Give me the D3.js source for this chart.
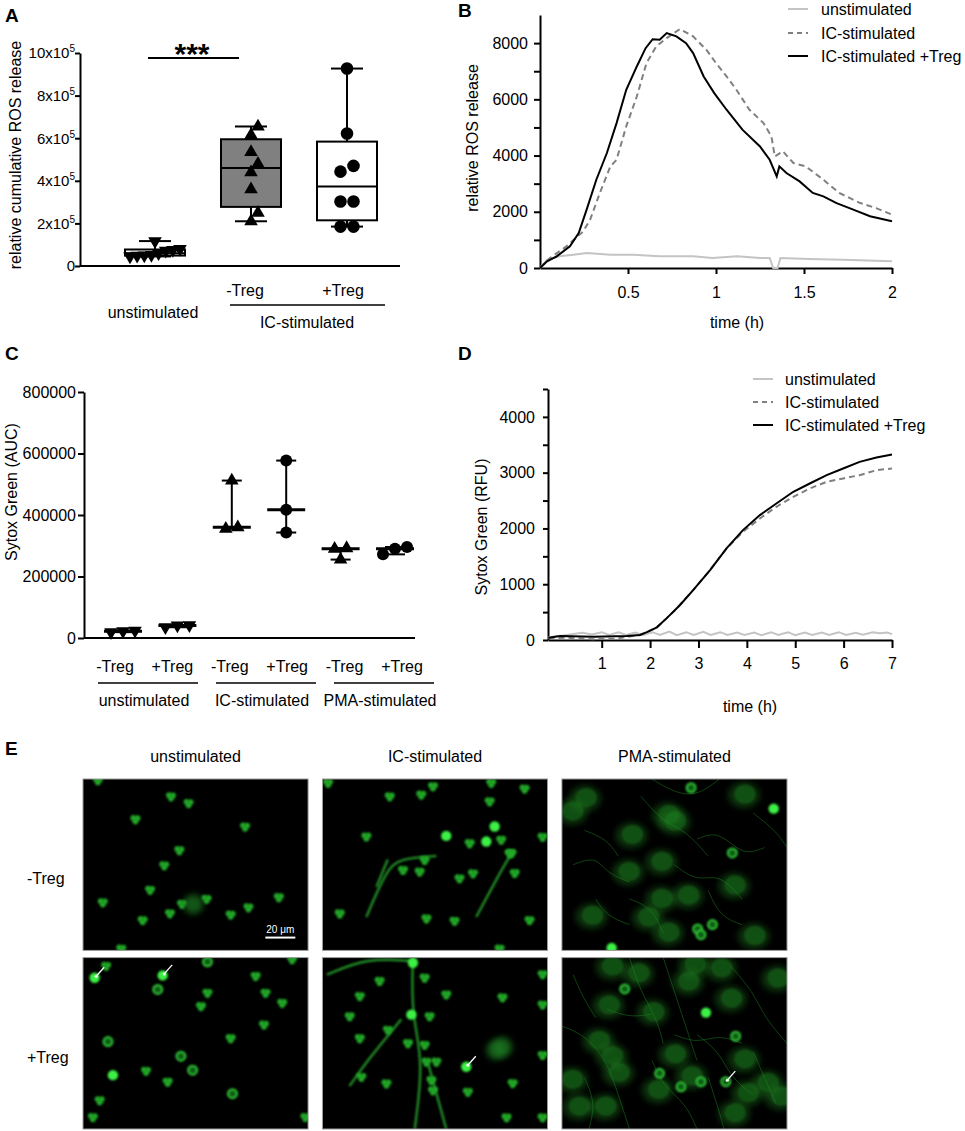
<!DOCTYPE html>
<html><head><meta charset="utf-8">
<script src="https://cdn.jsdelivr.net/npm/d3@7"></script>
<style>
body{margin:0;background:#fff}
svg text{font-family:"Liberation Sans",Arial,Helvetica,sans-serif;fill:#000}
</style></head>
<body><svg id="fig" width="965" height="1131"></svg>
<script>
// ================= DATA =================
// Panel A (values in units of 10^5)
const aGroups = ["unstimulated", "-Treg", "+Treg"];
const aUnstim = [0.8, 0.72, 0.5, 0.45, 0.48, 0.52, 0.6, 0.75, 1.17];
const aICminus = [2.1, 2.5, 3.6, 4.4, 4.8, 5.35, 6.15, 6.55];
const aICplus = [9.27, 6.22, 4.43, 4.7, 3.03, 3.03, 1.85, 1.85];
const aTicks = [0, 2, 4, 6, 8, 10];

// Panel B: [time h, value]
const bUnstim = [[0,0],[0.04,296],[0.11,415],[0.19,475],[0.265,535],[0.4,475],[0.53,475],[0.68,415],[0.87,415],[0.98,355],[1.12,415],[1.25,355],[1.305,355],[1.325,0],[1.35,0],[1.366,355],[1.53,320],[1.72,296],[2,237]];
const bIC = [[0,0],[0.057,355],[0.15,770],[0.245,1300],[0.285,1720],[0.34,2670],[0.4,3615],[0.435,3850],[0.49,5040],[0.55,6100],[0.605,7290],[0.66,7880],[0.72,8180],[0.795,8500],[0.87,8240],[0.946,7760],[1.0,7290],[1.06,6815],[1.116,6340],[1.19,5630],[1.27,5155],[1.315,4680],[1.334,3970],[1.38,4150],[1.44,3735],[1.51,3615],[1.61,3140],[1.70,2670],[1.82,2310],[1.91,2130],[2,1900]];
const bICTreg = [[0,0],[0.04,237],[0.095,415],[0.17,770],[0.22,1245],[0.265,2075],[0.32,3140],[0.38,4090],[0.435,5155],[0.49,6340],[0.55,7170],[0.6,7820],[0.64,8140],[0.68,8120],[0.72,8355],[0.775,8240],[0.83,8000],[0.87,7645],[0.93,6815],[0.99,6220],[1.06,5630],[1.15,4920],[1.25,4325],[1.305,3850],[1.345,3260],[1.36,3615],[1.4,3380],[1.475,3080],[1.55,2670],[1.61,2550],[1.685,2310],[1.78,2075],[1.875,1840],[2,1660]];
const bXTicks = [0.5, 1, 1.5, 2];
const bYTicks = [0,1000,2000,3000,4000,5000,6000,7000,8000];
const legendLabels = ["unstimulated", "IC-stimulated", "IC-stimulated +Treg"];

// Panel C
const cGroups = ["unstim-", "unstim+", "IC-", "IC+", "PMA-", "PMA+"];
const cSubLabels = ["-Treg", "+Treg", "-Treg", "+Treg", "-Treg", "+Treg"];
const cStimLabels = ["unstimulated", "IC-stimulated", "PMA-stimulated"];
const cUnstimMinus = [24000, 19000, 22000];
const cUnstimPlus = [42000, 35000, 41000];
const cICMinus = [355000, 360000, 512000];
const cICPlus = [577000, 417000, 343000];
const cPMAMinus = [292000, 255000, 290000];
const cPMAPlus = [296000, 272000, 290000];
const cTicks = [0, 200000, 400000, 600000, 800000];

// Panel D: [time h, RFU]
const dUnstim = [[-0.1,50],[0.2,80],[0.45,110],[0.6,130],[0.8,100],[1.0,140],[1.15,90],[1.35,140],[1.5,90],[1.7,135],[1.85,85],[2.05,140],[2.2,90],[2.4,150],[2.55,85],[2.75,140],[2.9,90],[3.1,145],[3.25,90],[3.45,140],[3.6,90],[3.8,135],[3.95,90],[4.15,135],[4.3,85],[4.5,140],[4.65,90],[4.85,140],[5.0,85],[5.2,135],[5.35,90],[5.55,135],[5.7,90],[5.9,140],[6.05,90],[6.25,130],[6.4,95],[6.6,140],[6.75,120],[6.9,135],[7.0,105]];
const dIC = [[-0.1,30],[0.3,40],[0.83,15],[1.3,25],[1.79,90],[2.14,227],[2.5,520],[2.89,895],[3.24,1254],[3.58,1642],[3.92,1940],[4.27,2179],[4.61,2388],[4.96,2567],[5.30,2716],[5.65,2836],[5.99,2896],[6.33,2955],[6.68,3045],[7.0,3075]];
const dICTreg = [[-0.1,42],[0.14,72],[0.83,60],[1.52,72],[1.79,90],[1.96,150],[2.14,227],[2.34,388],[2.62,627],[2.89,895],[3.24,1254],[3.58,1642],[3.92,1970],[4.27,2239],[4.61,2448],[4.96,2657],[5.30,2806],[5.65,2955],[5.99,3075],[6.33,3194],[6.68,3272],[7.0,3325]];
const dXTicks = [1,2,3,4,5,6,7];
const dYTicks = [0,500,1000,1500,2000,2500,3000,3500,4000,4500];

// Panel E: cells [fx, fy, kind] kind 0=nucleus,1=bright,2=dim large,3=ring
const eCols = ["unstimulated", "IC-stimulated", "PMA-stimulated"];
const eRows = ["-Treg", "+Treg"];
const cellsUnMinus = [[0.066,0.008,0],[0.391,0.102,0],[0.469,0.141,0],[0.233,0.235,0],[0.72,0.278,0],[0.428,0.416,0],[0.361,0.504,0],[0.298,0.647,0],[0.088,0.72,0],[0.549,0.7,0],[0.44,0.729,0],[0.386,0.784,0],[0.265,0.824,0],[0.656,0.792,0],[0.735,0.749,0],[0.87,0.69,0],[0.17,0.99,0],[0.49,0.73,2]];
const cellsUnPlus = [[0.052,0.118,1],[0.103,0.049,0],[0.354,0.104,1],[0.332,0.186,3],[0.553,0.025,3],[0.767,0.108,0],[0.811,0.206,0],[0.885,0.265,0],[0.524,0.284,0],[0.553,0.206,0],[0.656,0.471,0],[0.804,0.392,0],[0.111,0.49,3],[0.435,0.575,3],[0.487,0.657,3],[0.28,0.661,0],[0.376,0.725,0],[0.133,0.686,1],[0.664,0.794,3],[0.074,0.833,0],[0.044,0.931,0],[0.929,0.01,0],[0.988,0.931,0]];
const cellsICMinus = [[0.025,0.023,0],[0.299,0.102,0],[0.439,0.092,0],[0.491,0.043,0],[0.75,0.023,0],[0.743,0.131,0],[0.195,0.336,0],[0.55,0.332,1],[0.765,0.277,1],[0.728,0.365,1],[0.794,0.355,0],[0.654,0.375,0],[0.831,0.434,0],[0.454,0.473,0],[0.358,0.531,0],[0.432,0.541,0],[0.609,0.58,0],[0.669,0.551,0],[0.077,0.785,0],[0.462,0.814,0],[0.587,0.828,0],[0.898,0.057,0],[0.978,0.338,0],[0.84,0.432,0],[0.854,0.549,0],[0.92,0.824,0],[0.787,0.99,0]];
const cellsICPlus = [[0.402,0.03,1],[0.254,0.137,0],[0.454,0.118,0],[0.166,0.225,0],[0.121,0.343,0],[0.395,0.333,1],[0.55,0.216,0],[0.476,0.343,0],[0.291,0.422,0],[0.166,0.471,0],[0.38,0.5,0],[0.454,0.51,0],[0.462,0.608,0],[0.506,0.608,0],[0.639,0.637,1],[0.772,0.539,2],[0.173,0.696,0],[0.284,0.735,0],[0.484,0.716,0],[0.491,0.775,0],[0.646,0.784,0],[0.978,0.098,0],[0.8,0.233,0],[0.978,0.275,0],[0.8,0.522,2],[0.978,0.569,0],[0.845,0.733,0],[0.818,0.933,0],[0.978,0.933,0]];
const cellsPMAMinus = [[0.941,0.173,1],[0.574,0.051,3],[0.757,0.431,3],[0.669,0.849,3],[0.603,0.875,3],[0.618,0.908,3],[0.221,0.986,1]];
const cellsPMAPlus = [[0.64,0.321,1],[0.772,0.459,3],[0.434,0.675,3],[0.529,0.754,3],[0.618,0.724,3],[0.728,0.724,3],[0.279,0.183,3]];
const blobsPMAMinus = [[0.103,0.114],[0.044,0.192],[0.471,0.212],[0.309,0.329],[0.5,0.251],[0.809,0.094],[0.441,0.486],[0.294,0.545],[0.441,0.702],[0.559,0.682],[0.382,0.81],[0.471,0.898],[0.853,0.918],[0.765,0.624],[0.132,0.8]];
const blobsPMAPlus = [[0.221,0.055],[0.338,0.094],[0.588,0.045],[0.706,0.065],[0.559,0.144],[0.75,0.242],[0.404,0.321],[0.206,0.281],[0.162,0.488],[0.221,0.577],[0.25,0.675],[0.5,0.567],[0.574,0.695],[0.809,0.596],[0.824,0.793],[0.912,0.734],[0.971,0.813],[0.044,0.715],[0.074,0.872],[0.191,0.872],[0.426,0.774],[0.765,0.911],[0.956,0.124]];
const strandsICMinus = [[[0.195,0.805],[0.284,0.531],[0.343,0.463],[0.506,0.449]],[[0.24,0.63],[0.29,0.47]],[[0.683,0.805],[0.787,0.551],[0.831,0.453]]];
const strandsICPlus = [[[0.402,0.0],[0.395,0.333],[0.45,0.6],[0.41,1.0]],[[0.47,0.62],[0.55,1.0]],[[0.02,0.1],[0.2,0.0],[0.4,0.02]],[[0.35,0.36],[0.2,0.6],[0.12,0.75]]];
const strandsPMAMinus = [[[0.05,0.5],[0.15,0.45],[0.2,0.55],[0.3,0.6]],[[0.35,0.1],[0.45,0.25],[0.55,0.3],[0.65,0.45]],[[0.6,0.35],[0.7,0.3],[0.8,0.45],[0.9,0.4]],[[0.15,0.7],[0.2,0.8],[0.3,0.85]],[[0.5,0.5],[0.6,0.6],[0.7,0.55],[0.8,0.7]],[[0.4,0.0],[0.5,0.08],[0.6,0.1],[0.7,0.0]],[[0.1,0.3],[0.2,0.35],[0.25,0.45]],[[0.65,0.65],[0.7,0.8],[0.8,0.85]],[[0.85,0.2],[0.95,0.3],[1.0,0.4]],[[0.3,0.7],[0.4,0.75],[0.45,0.9]]];
const strandsPMAPlus = [[[0.3,0.0],[0.35,0.2],[0.42,0.35],[0.45,0.5]],[[0.45,0.0],[0.5,0.2],[0.55,0.4],[0.6,0.6]],[[0.0,0.4],[0.1,0.45],[0.2,0.6],[0.25,0.8],[0.3,1.0]],[[0.6,0.45],[0.7,0.55],[0.75,0.7],[0.85,0.8]],[[0.75,0.05],[0.85,0.2],[0.9,0.35],[1.0,0.5]],[[0.4,0.6],[0.45,0.75],[0.55,0.85],[0.6,1.0]],[[0.05,0.1],[0.1,0.25],[0.15,0.35]],[[0.2,0.3],[0.3,0.35],[0.4,0.33]],[[0.65,0.7],[0.7,0.9],[0.72,1.0]],[[0.5,0.45],[0.6,0.5],[0.7,0.45],[0.8,0.5]],[[0.85,0.55],[0.9,0.7],[0.95,0.85]],[[0.1,0.7],[0.15,0.85],[0.12,1.0]]];
const arrowsUnPlus = [[0.052,0.118],[0.354,0.104]];
const arrowsICPlus = [[0.639,0.637]];
const arrowsPMAPlus = [[0.728,0.724]];

// ================= HELPERS =================
const svg = d3.select("#fig");
const defs = svg.append("defs");
[["bl1",0.8],["bl2",1.5],["bl3",3],["bl6",6]].forEach(([id,s])=>{
  defs.append("filter").attr("id",id).attr("x","-100%").attr("y","-100%").attr("width","300%").attr("height","300%")
    .append("feGaussianBlur").attr("stdDeviation",s);
});

function quant(arr,p){const s=arr.slice().sort((a,b)=>a-b),n=s.length;const h=(n+1)*p;if(h<=1)return s[0];if(h>=n)return s[n-1];const lo=Math.floor(h);return s[lo-1]+(h-lo)*(s[lo]-s[lo-1]);}

function layoutPoints(vals,y,opt){
  const {thresh=8,space=12,maxW=50,minD=9}=opt||{};
  const order=vals.map((v,i)=>i).sort((a,b)=>vals[a]-vals[b]);
  const rows=[];
  order.forEach(i=>{const yy=y(vals[i]);const r=rows[rows.length-1];if(r&&Math.abs(r.y0-yy)<thresh)r.items.push(i);else rows.push({y0:yy,items:[i]});});
  const placed=[],off=[];
  rows.forEach(r=>{const k=r.items.length;const sp=k>1?Math.min(space,maxW/(k-1)):0;
    const base=r.items.map((i,j)=>(j-(k-1)/2)*sp);
    for(let t=0;t<30;t++){const sh=t===0?0:(t%2?1:-1)*Math.ceil(t/2)*7;
      const ok=r.items.every((i,j)=>placed.every(p=>Math.hypot(p.x-(base[j]+sh),p.y-y(vals[i]))>=minD));
      if(ok){r.items.forEach((i,j)=>{off[i]=base[j]+sh;placed.push({x:off[i],y:y(vals[i])});});break;}}
  });
  return off;
}
const triPath=d3.symbol(d3.symbolTriangle,80)();
function drawMarker(g,x,y,shape,r){
  if(shape==="circle") g.append("circle").attr("cx",x).attr("cy",y).attr("r",r||6.3).attr("fill","#000");
  else g.append("path").attr("d",triPath).attr("fill","#000")
    .attr("transform",`translate(${x},${y})`+(shape==="down"?" rotate(180)":""));
}
function styleAxis(g,w){g.selectAll("path,line").attr("stroke","#000").attr("stroke-width",w||2);g.selectAll("text").attr("font-size",16).attr("font-family","Liberation Sans, Arial, sans-serif");}
function letter(t,x,y){svg.append("text").attr("x",x).attr("y",y).attr("font-size",19).attr("font-weight","bold").text(t);}
function ytitle(t,x,y){svg.append("text").attr("transform",`translate(${x},${y}) rotate(-90)`).attr("text-anchor","middle").attr("font-size",16).text(t);}

// ================= PANEL A =================
letter("A",5,22);
const aY=d3.scaleLinear().domain([0,10]).range([266,53]);
const aX=d3.scalePoint().domain(aGroups).range([155,347]);
const aYAxis=svg.append("g").attr("transform","translate(80,0)")
  .call(d3.axisLeft(aY).tickValues(aTicks).tickSize(5).tickPadding(3).tickSizeOuter(0).tickFormat(""));
styleAxis(aYAxis);
aYAxis.selectAll(".tick").each(function(d){
  const t=d3.select(this).append("text").attr("x",-5).attr("dy","0.32em").attr("text-anchor","end").attr("font-size",15).attr("fill","#000");
  if(d===0){t.text("0");}else{t.append("tspan").text(d+"x10");t.append("tspan").attr("font-size",10).attr("dy","-0.6em").text("5");}
});
svg.append("line").attr("x1",80).attr("x2",400).attr("y1",aY(0)).attr("y2",aY(0)).attr("stroke","#000").attr("stroke-width",2);
ytitle("relative cumulative ROS release",21,155);

const aSets=[{g:"unstimulated",v:aUnstim,shape:"down",fill:"#fff"},{g:"-Treg",v:aICminus,shape:"up",fill:"#808080"},{g:"+Treg",v:aICplus,shape:"circle",fill:"#fff"}];
aSets.forEach(s=>{
  const cx=aX(s.g),g=svg.append("g");
  const q1=quant(s.v,0.25),md=quant(s.v,0.5),q3=quant(s.v,0.75),mn=d3.min(s.v),mx=d3.max(s.v);
  const bw=30,cw=16;
  g.append("line").attr("x1",cx).attr("x2",cx).attr("y1",aY(mx)).attr("y2",aY(q3)).attr("stroke","#000").attr("stroke-width",2);
  g.append("line").attr("x1",cx).attr("x2",cx).attr("y1",aY(q1)).attr("y2",aY(mn)).attr("stroke","#000").attr("stroke-width",2);
  [mn,mx].forEach(v=>g.append("line").attr("x1",cx-cw).attr("x2",cx+cw).attr("y1",aY(v)).attr("y2",aY(v)).attr("stroke","#000").attr("stroke-width",2));
  g.append("rect").attr("x",cx-bw).attr("width",bw*2).attr("y",aY(q3)).attr("height",aY(q1)-aY(q3)).attr("fill",s.fill).attr("stroke","#000").attr("stroke-width",2);
  g.append("line").attr("x1",cx-bw).attr("x2",cx+bw).attr("y1",aY(md)).attr("y2",aY(md)).attr("stroke","#000").attr("stroke-width",2);
  const off=layoutPoints(s.v,aY,{thresh:8,space:13,maxW:50,minD:9});
  s.v.forEach((v,i)=>drawMarker(g,cx+off[i],aY(v),s.shape,6.3));
});
// significance
svg.append("line").attr("x1",148).attr("x2",239).attr("y1",58).attr("y2",58).attr("stroke","#000").attr("stroke-width",2);
svg.append("text").attr("x",192).attr("y",64).attr("text-anchor","middle").attr("font-size",30).attr("font-weight","bold").text("***");
// category labels
svg.append("text").attr("x",245).attr("y",296).attr("text-anchor","middle").attr("font-size",16).text("-Treg");
svg.append("text").attr("x",343).attr("y",296).attr("text-anchor","middle").attr("font-size",16).text("+Treg");
svg.append("line").attr("x1",230).attr("x2",385).attr("y1",305).attr("y2",305).attr("stroke","#000").attr("stroke-width",1.5);
svg.append("text").attr("x",153).attr("y",318).attr("text-anchor","middle").attr("font-size",16).text(aGroups[0]);
svg.append("text").attr("x",307).attr("y",328).attr("text-anchor","middle").attr("font-size",16).text("IC-stimulated");

// ================= PANEL B =================
letter("B",458,17);
const bX=d3.scaleLinear().domain([0,2]).range([540,892]);
const bY=d3.scaleLinear().domain([0,9000]).range([268,15]);
const bYA=svg.append("g").attr("transform","translate(540,0)")
  .call(d3.axisLeft(bY).tickValues(bYTicks).tickSize(6).tickPadding(6).tickSizeOuter(0).tickFormat(d=>d%2000===0?d:""));
styleAxis(bYA);
const bXA=svg.append("g").attr("transform","translate(0,268)")
  .call(d3.axisBottom(bX).tickValues(bXTicks).tickSize(6).tickPadding(13).tickSizeOuter(0).tickFormat(d=>d));
styleAxis(bXA);
ytitle("relative ROS release",478,138);
svg.append("text").attr("x",737).attr("y",328).attr("text-anchor","middle").attr("font-size",16).text("time (h)");
const bLine=d3.line().x(d=>bX(d[0])).y(d=>bY(d[1]));
const lineStyles=[{c:"#c4c4c4",dash:null,w:2},{c:"#808080",dash:"6,4",w:2},{c:"#000",dash:null,w:2}];
[bUnstim,bIC,bICTreg].forEach((d,i)=>svg.append("path").datum(d).attr("d",bLine).attr("fill","none")
  .attr("stroke",lineStyles[i].c).attr("stroke-width",lineStyles[i].w).attr("stroke-dasharray",lineStyles[i].dash));
function legend(x0,x1,tx,ys){
  legendLabels.forEach((t,i)=>{
    svg.append("line").attr("x1",x0).attr("x2",x1).attr("y1",ys[i]).attr("y2",ys[i]).attr("stroke",lineStyles[i].c).attr("stroke-width",2).attr("stroke-dasharray",lineStyles[i].dash?"5,4":null);
    svg.append("text").attr("x",tx).attr("y",ys[i]+6).attr("font-size",16).text(t);
  });
}
legend(788,808,821,[9,33,56]);

// ================= PANEL C =================
letter("C",5,360);
const cY=d3.scaleLinear().domain([0,800000]).range([638,392]);
const cX=d3.scalePoint().domain(cGroups).range([123,395]);
const cXL=d3.scalePoint().domain(cGroups).range([115,402]);
const cXG=d3.scalePoint().domain(cStimLabels).range([148,384]);
const cYA=svg.append("g").attr("transform","translate(84,0)")
  .call(d3.axisLeft(cY).tickValues(cTicks).tickSize(6).tickPadding(2).tickSizeOuter(0).tickFormat(d=>d));
styleAxis(cYA);
svg.append("line").attr("x1",84).attr("x2",415).attr("y1",cY(0)).attr("y2",cY(0)).attr("stroke","#000").attr("stroke-width",2);
ytitle("Sytox Green (AUC)",17,492);
const cSets=[cUnstimMinus,cUnstimPlus,cICMinus,cICPlus,cPMAMinus,cPMAPlus];
const cShapes=["down","down","up","circle","up","circle"];
cSets.forEach((v,k)=>{
  const cx=cX(cGroups[k]),g=svg.append("g");
  const md=d3.median(v),mn=d3.min(v),mx=d3.max(v);
  g.append("line").attr("x1",cx).attr("x2",cx).attr("y1",cY(mx)).attr("y2",cY(mn)).attr("stroke","#000").attr("stroke-width",2);
  [mn,mx].forEach(val=>g.append("line").attr("x1",cx-10).attr("x2",cx+10).attr("y1",cY(val)).attr("y2",cY(val)).attr("stroke","#000").attr("stroke-width",2));
  const off=layoutPoints(v,cY,{thresh:8,space:12,maxW:26,minD:9});
  v.forEach((val,i)=>drawMarker(g,cx+off[i],cY(val),cShapes[k],6));
  g.append("line").attr("x1",cx-19).attr("x2",cx+19).attr("y1",cY(md)).attr("y2",cY(md)).attr("stroke","#000").attr("stroke-width",3);
  svg.append("text").attr("x",cXL(cGroups[k])).attr("y",672).attr("text-anchor","middle").attr("font-size",16).text(cSubLabels[k]);
});
cStimLabels.forEach(t=>{
  const cx=cXG(t);
  svg.append("line").attr("x1",cx-50).attr("x2",cx+50).attr("y1",683).attr("y2",683).attr("stroke","#000").attr("stroke-width",1.5);
  svg.append("text").attr("x",cx-4).attr("y",706).attr("text-anchor","middle").attr("font-size",16).text(t);
});

// ================= PANEL D =================
letter("D",458,360);
const dX=d3.scaleLinear().domain([-0.11,7]).range([548,892]);
const dY=d3.scaleLinear().domain([0,4500]).range([640,389]);
const dYA=svg.append("g").attr("transform","translate(548,0)")
  .call(d3.axisLeft(dY).tickValues(dYTicks).tickSize(5).tickPadding(8).tickSizeOuter(0).tickFormat(d=>d%1000===0?d:""));
styleAxis(dYA);
const dXA=svg.append("g").attr("transform","translate(0,640)")
  .call(d3.axisBottom(dX).tickValues(dXTicks).tickSize(8).tickPadding(10).tickSizeOuter(0).tickFormat(d=>d));
styleAxis(dXA);
ytitle("Sytox Green (RFU)",487,527);
svg.append("text").attr("x",750).attr("y",712).attr("text-anchor","middle").attr("font-size",16).text("time (h)");
const dLine=d3.line().x(d=>dX(d[0])).y(d=>dY(d[1]));
[dUnstim,dIC,dICTreg].forEach((d,i)=>svg.append("path").datum(d).attr("d",dLine).attr("fill","none")
  .attr("stroke",lineStyles[i].c).attr("stroke-width",lineStyles[i].w).attr("stroke-dasharray",lineStyles[i].dash));
legend(753,773,785,[379,402,425]);

// ================= PANEL E =================
letter("E",5,755);
const eX=d3.scaleBand().domain(eCols).range([83,787]).paddingInner(0.06);
const eY=d3.scaleBand().domain(eRows).range([779,1129]).paddingInner(0.04);
eCols.forEach(c=>svg.append("text").attr("x",eX(c)+eX.bandwidth()/2).attr("y",762).attr("text-anchor","middle").attr("font-size",16).text(c));
eRows.forEach(r=>svg.append("text").attr("x",27).attr("y",eY(r)+eY.bandwidth()*0.58+6).attr("font-size",16).text(r));
const panels=[
 {c:0,r:0,cells:cellsUnMinus,blobs:[],strands:[],arrows:[]},
 {c:1,r:0,cells:cellsICMinus,blobs:[],strands:strandsICMinus,arrows:[],sw:2.4},
 {c:2,r:0,cells:cellsPMAMinus,blobs:blobsPMAMinus,strands:strandsPMAMinus,arrows:[],sw:0.8},
 {c:0,r:1,cells:cellsUnPlus,blobs:[],strands:[],arrows:arrowsUnPlus},
 {c:1,r:1,cells:cellsICPlus,blobs:[],strands:strandsICPlus,arrows:arrowsICPlus,sw:2.4},
 {c:2,r:1,cells:cellsPMAPlus,blobs:blobsPMAPlus,strands:strandsPMAPlus,arrows:arrowsPMAPlus,sw:0.8}
];
panels.forEach((p,k)=>{
  const x0=eX(eCols[p.c]),y0=eY(eRows[p.r]),w=eX.bandwidth(),h=eY.bandwidth();
  const fx=d3.scaleLinear().domain([0,1]).range([x0,x0+w]);
  const fy=d3.scaleLinear().domain([0,1]).range([y0,y0+h]);
  defs.append("clipPath").attr("id","clip"+k).append("rect").attr("x",x0).attr("y",y0).attr("width",w).attr("height",h);
  const g=svg.append("g").attr("clip-path",`url(#clip${k})`);
  g.append("rect").attr("x",x0).attr("y",y0).attr("width",w).attr("height",h).attr("fill","#000");
  p.blobs.forEach((b,i)=>{
    g.append("ellipse").attr("cx",fx(b[0])).attr("cy",fy(b[1])).attr("rx",16).attr("ry",13).attr("fill","#1a6e1d").attr("opacity",0.45).attr("filter","url(#bl3)");
    g.append("ellipse").attr("cx",fx(b[0])+1).attr("cy",fy(b[1])-1).attr("rx",10).attr("ry",9).attr("fill","#1f8a24").attr("opacity",0.35)
      .attr("stroke","#2a9c2e").attr("stroke-width",1.2).attr("stroke-opacity",0.8).attr("filter","url(#bl1)");
  });
  const sl=d3.line().x(d=>fx(d[0])).y(d=>fy(d[1])).curve(d3.curveBasis);
  p.strands.forEach(s=>{
    g.append("path").attr("d",sl(s)).attr("fill","none").attr("stroke",p.sw>2?"#2cb431":"#1f8a24").attr("stroke-width",p.sw)
      .attr("opacity",p.sw>2?0.8:0.6).attr("filter",p.sw>2?"url(#bl1)":null);
  });
  p.cells.forEach(c=>{
    const cx=fx(c[0]),cy=fy(c[1]);
    if(c[2]===0){
      [[-2.1,-1.3],[2.1,-1.1],[0,2.1]].forEach(o=>g.append("circle").attr("cx",cx+o[0]).attr("cy",cy+o[1]).attr("r",2.9).attr("fill","#22a828").attr("filter","url(#bl1)"));
    } else if(c[2]===1){
      g.append("circle").attr("cx",cx).attr("cy",cy).attr("r",5.2).attr("fill","#3df044").attr("filter","url(#bl1)");
    } else if(c[2]===2){
      g.append("circle").attr("cx",cx).attr("cy",cy).attr("r",10).attr("fill","#1e7a22").attr("opacity",0.7).attr("filter","url(#bl3)");
    } else {
      g.append("circle").attr("cx",cx).attr("cy",cy).attr("r",4.5).attr("fill","#0e5e12").attr("stroke","#30c036").attr("stroke-width",2).attr("filter","url(#bl1)");
    }
  });
  p.arrows.forEach(a=>{
    const ax=fx(a[0])+1.5,ay=fy(a[1])-1.5;
    g.append("line").attr("x1",ax).attr("y1",ay).attr("x2",ax+8).attr("y2",ay-9).attr("stroke","#fff").attr("stroke-width",1.3);
    g.append("circle").attr("cx",ax).attr("cy",ay).attr("r",1.5).attr("fill","#fff");
  });
  svg.append("rect").attr("x",x0).attr("y",y0).attr("width",w).attr("height",h).attr("fill","none").attr("stroke","#9a9a9a").attr("stroke-width",1);
  if(k===0){
    const sx=fx(0.81),sy=fy(0.925);
    svg.append("line").attr("x1",sx).attr("x2",sx+30).attr("y1",sy).attr("y2",sy).attr("stroke","#fff").attr("stroke-width",2);
    svg.append("text").attr("x",sx+15).attr("y",sy-5).attr("text-anchor","middle").attr("font-size",10).style("fill","#fff").text("20 μm");
  }
});
</script></body></html>
